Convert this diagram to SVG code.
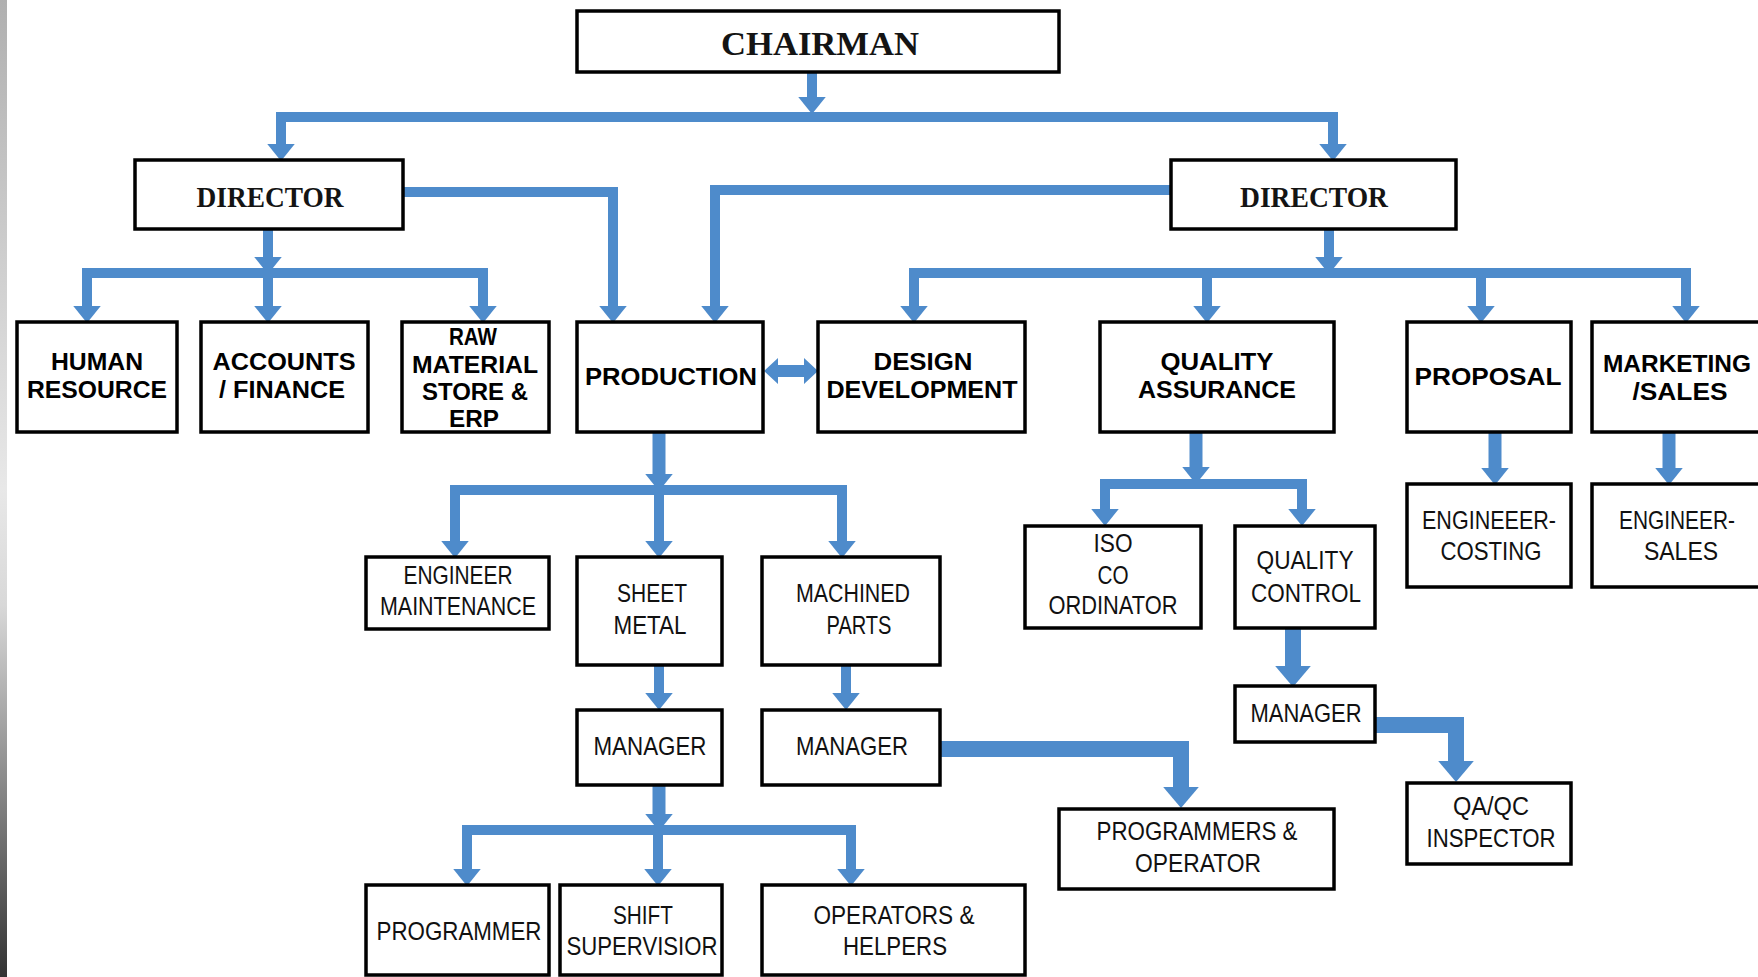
<svg xmlns="http://www.w3.org/2000/svg" width="1758" height="977" viewBox="0 0 1758 977">
<defs>
<style>
.box{fill:#fff;stroke:#000;stroke-width:3.5}
.c{fill:none;stroke:#4E8BCB;stroke-linejoin:miter;stroke-linecap:butt}
.n{stroke-width:10}
.m{stroke-width:13}
.t{stroke-width:16}
.ts{font-family:"Liberation Serif","Times New Roman",serif;font-weight:bold;fill:#141414;text-anchor:middle}
.tb{font-family:"Liberation Sans",Arial,sans-serif;font-weight:bold;font-size:24px;fill:#000;text-anchor:middle}
.tr{font-family:"Liberation Sans",Arial,sans-serif;font-size:26px;fill:#111;text-anchor:middle}
</style>
<marker id="ah" markerUnits="userSpaceOnUse" markerWidth="18" markerHeight="30" viewBox="0 -14 17 28" refX="0" refY="0" orient="auto-start-reverse">
<path d="M0,-13 L16,0 L0,13 Z" fill="#4E8BCB"/>
</marker>
<marker id="ahL" markerUnits="userSpaceOnUse" markerWidth="22" markerHeight="38" viewBox="0 -18 21 36" refX="0" refY="0" orient="auto-start-reverse">
<path d="M0,-17 L20,0 L0,17 Z" fill="#4E8BCB"/>
</marker>
<linearGradient id="edge" x1="0" y1="0" x2="0" y2="1">
<stop offset="0" stop-color="#b0b0b0"/>
<stop offset="0.5" stop-color="#e8e8e8"/>
<stop offset="0.62" stop-color="#d8d8d8"/>
<stop offset="1" stop-color="#333"/>
</linearGradient>
</defs>
<rect x="0" y="0" width="1758" height="977" fill="#fff"/>
<rect x="0" y="0" width="7" height="977" fill="url(#edge)"/>

<g id="connectors">
<path class="c n" d="M812 72 V97" marker-end="url(#ah)"/>
<path class="c n" d="M281 144 V117 H1333 V144" marker-start="url(#ah)" marker-end="url(#ah)"/>
<path class="c n" d="M268 229 V257" marker-end="url(#ah)"/>
<path class="c n" d="M87 306 V273 H483 V306" marker-start="url(#ah)" marker-end="url(#ah)"/>
<path class="c n" d="M268 273 V306" marker-end="url(#ah)"/>
<path class="c n" d="M403 192 H613 V306" marker-end="url(#ah)"/>
<path class="c n" d="M1171 190 H715 V306" marker-end="url(#ah)"/>
<path class="c n" d="M1329 229 V257" marker-end="url(#ah)"/>
<path class="c n" d="M914 306 V273 H1686 V306" marker-start="url(#ah)" marker-end="url(#ah)"/>
<path class="c n" d="M1207 273 V306" marker-end="url(#ah)"/>
<path class="c n" d="M1481 273 V306" marker-end="url(#ah)"/>
<polygon points="764,371 778,358 778,365 804,365 804,358 818,371 804,384 804,377 778,377 778,384" fill="#4E8BCB"/>
<path class="c m" d="M659 432 V474" marker-end="url(#ah)"/>
<path class="c n" d="M455 541 V490 H842 V541" marker-start="url(#ah)" marker-end="url(#ah)"/>
<path class="c n" d="M659 490 V541" marker-end="url(#ah)"/>
<path class="c n" d="M659 665 V693" marker-end="url(#ah)"/>
<path class="c n" d="M846 665 V693" marker-end="url(#ah)"/>
<path class="c m" d="M659 785 V814" marker-end="url(#ah)"/>
<path class="c n" d="M467 869 V830 H851 V869" marker-start="url(#ah)" marker-end="url(#ah)"/>
<path class="c n" d="M658 830 V869" marker-end="url(#ah)"/>
<path class="c t" d="M940 749 H1181 V787" marker-end="url(#ahL)"/>
<path class="c m" d="M1196 432 V467" marker-end="url(#ah)"/>
<path class="c n" d="M1105 509 V484 H1302 V509" marker-start="url(#ah)" marker-end="url(#ah)"/>
<path class="c t" d="M1293 628 V666" marker-end="url(#ahL)"/>
<path class="c t" d="M1375 725 H1456 V761" marker-end="url(#ahL)"/>
<path class="c m" d="M1495 432 V468" marker-end="url(#ah)"/>
<path class="c m" d="M1669 432 V468" marker-end="url(#ah)"/>
</g>

<g id="chairman"><rect class="box" x="577" y="11" width="482" height="61"/><text class="ts" x="820" y="55" font-size="33" textLength="198" lengthAdjust="spacingAndGlyphs">CHAIRMAN</text></g>
<g id="director-left"><rect class="box" x="135" y="160" width="268" height="69"/><text class="ts" x="270" y="207" font-size="30" textLength="147" lengthAdjust="spacingAndGlyphs">DIRECTOR</text></g>
<g id="director-right"><rect class="box" x="1171" y="160" width="285" height="69"/><text class="ts" x="1314" y="207" font-size="30" textLength="148" lengthAdjust="spacingAndGlyphs">DIRECTOR</text></g>

<g id="human-resource"><rect class="box" x="17" y="322" width="160" height="110"/><text class="tb" x="97" y="370" textLength="92" lengthAdjust="spacingAndGlyphs">HUMAN</text><text class="tb" x="97" y="398" textLength="140" lengthAdjust="spacingAndGlyphs">RESOURCE</text></g>
<g id="accounts"><rect class="box" x="201" y="322" width="167" height="110"/><text class="tb" x="284" y="370" textLength="143" lengthAdjust="spacingAndGlyphs">ACCOUNTS</text><text class="tb" x="282" y="398" textLength="126" lengthAdjust="spacingAndGlyphs">/ FINANCE</text></g>
<g id="raw-material"><rect class="box" x="402" y="322" width="147" height="110"/><text class="tb" x="473" y="345" textLength="48" lengthAdjust="spacingAndGlyphs">RAW</text><text class="tb" x="475" y="373" textLength="126" lengthAdjust="spacingAndGlyphs">MATERIAL</text><text class="tb" x="475" y="400" textLength="106" lengthAdjust="spacingAndGlyphs">STORE &amp;</text><text class="tb" x="474" y="427" textLength="50" lengthAdjust="spacingAndGlyphs">ERP</text></g>
<g id="production"><rect class="box" x="577" y="322" width="186" height="110"/><text class="tb" x="671" y="385" textLength="172" lengthAdjust="spacingAndGlyphs">PRODUCTION</text></g>
<g id="design"><rect class="box" x="818" y="322" width="207" height="110"/><text class="tb" x="923" y="370" textLength="99" lengthAdjust="spacingAndGlyphs">DESIGN</text><text class="tb" x="922" y="398" textLength="191" lengthAdjust="spacingAndGlyphs">DEVELOPMENT</text></g>
<g id="quality-assurance"><rect class="box" x="1100" y="322" width="234" height="110"/><text class="tb" x="1217" y="370" textLength="113" lengthAdjust="spacingAndGlyphs">QUALITY</text><text class="tb" x="1217" y="398" textLength="158" lengthAdjust="spacingAndGlyphs">ASSURANCE</text></g>
<g id="proposal"><rect class="box" x="1407" y="322" width="164" height="110"/><text class="tb" x="1488" y="385" textLength="147" lengthAdjust="spacingAndGlyphs">PROPOSAL</text></g>
<g id="marketing"><rect class="box" x="1592" y="322" width="168" height="110"/><text class="tb" x="1677" y="372" textLength="148" lengthAdjust="spacingAndGlyphs">MARKETING</text><text class="tb" x="1680" y="400" textLength="95" lengthAdjust="spacingAndGlyphs">/SALES</text></g>

<g id="engineer-maintenance"><rect class="box" x="366" y="557" width="183" height="72"/><text class="tr" x="458" y="584" textLength="109" lengthAdjust="spacingAndGlyphs">ENGINEER</text><text class="tr" x="458" y="615" textLength="156" lengthAdjust="spacingAndGlyphs">MAINTENANCE</text></g>
<g id="sheet-metal"><rect class="box" x="577" y="557" width="145" height="108"/><text class="tr" x="652" y="602" textLength="70" lengthAdjust="spacingAndGlyphs">SHEET</text><text class="tr" x="650" y="634" textLength="73" lengthAdjust="spacingAndGlyphs">METAL</text></g>
<g id="machined-parts"><rect class="box" x="762" y="557" width="178" height="108"/><text class="tr" x="853" y="602" textLength="114" lengthAdjust="spacingAndGlyphs">MACHINED</text><text class="tr" x="859" y="634" textLength="65" lengthAdjust="spacingAndGlyphs">PARTS</text></g>
<g id="manager-sheet"><rect class="box" x="577" y="710" width="145" height="75"/><text class="tr" x="650" y="755" textLength="113" lengthAdjust="spacingAndGlyphs">MANAGER</text></g>
<g id="manager-machined"><rect class="box" x="762" y="710" width="178" height="75"/><text class="tr" x="852" y="755" textLength="112" lengthAdjust="spacingAndGlyphs">MANAGER</text></g>
<g id="programmer"><rect class="box" x="366" y="885" width="183" height="90"/><text class="tr" x="459" y="940" textLength="165" lengthAdjust="spacingAndGlyphs">PROGRAMMER</text></g>
<g id="shift-supervisior"><rect class="box" x="560" y="885" width="162" height="90"/><text class="tr" x="643" y="924" textLength="60" lengthAdjust="spacingAndGlyphs">SHIFT</text><text class="tr" x="642" y="955" textLength="151" lengthAdjust="spacingAndGlyphs">SUPERVISIOR</text></g>
<g id="operators-helpers"><rect class="box" x="762" y="885" width="263" height="90"/><text class="tr" x="894" y="924" textLength="161" lengthAdjust="spacingAndGlyphs">OPERATORS &amp;</text><text class="tr" x="895" y="955" textLength="104" lengthAdjust="spacingAndGlyphs">HELPERS</text></g>
<g id="programmers-operator"><rect class="box" x="1059" y="809" width="275" height="80"/><text class="tr" x="1197" y="840" textLength="201" lengthAdjust="spacingAndGlyphs">PROGRAMMERS &amp;</text><text class="tr" x="1198" y="872" textLength="126" lengthAdjust="spacingAndGlyphs">OPERATOR</text></g>

<g id="iso-coordinator"><rect class="box" x="1025" y="526" width="176" height="102"/><text class="tr" x="1113" y="552" textLength="39" lengthAdjust="spacingAndGlyphs">ISO</text><text class="tr" x="1113" y="584" textLength="31" lengthAdjust="spacingAndGlyphs">CO</text><text class="tr" x="1113" y="614" textLength="129" lengthAdjust="spacingAndGlyphs">ORDINATOR</text></g>
<g id="quality-control"><rect class="box" x="1235" y="526" width="140" height="102"/><text class="tr" x="1305" y="569" textLength="97" lengthAdjust="spacingAndGlyphs">QUALITY</text><text class="tr" x="1306" y="602" textLength="110" lengthAdjust="spacingAndGlyphs">CONTROL</text></g>
<g id="manager-qc"><rect class="box" x="1235" y="686" width="140" height="56"/><text class="tr" x="1306" y="722" textLength="111" lengthAdjust="spacingAndGlyphs">MANAGER</text></g>
<g id="qaqc-inspector"><rect class="box" x="1407" y="783" width="164" height="81"/><text class="tr" x="1491" y="815" textLength="76" lengthAdjust="spacingAndGlyphs">QA/QC</text><text class="tr" x="1491" y="847" textLength="129" lengthAdjust="spacingAndGlyphs">INSPECTOR</text></g>
<g id="engineer-costing"><rect class="box" x="1407" y="484" width="164" height="103"/><text class="tr" x="1489" y="529" textLength="134" lengthAdjust="spacingAndGlyphs">ENGINEEER-</text><text class="tr" x="1491" y="560" textLength="101" lengthAdjust="spacingAndGlyphs">COSTING</text></g>
<g id="engineer-sales"><rect class="box" x="1592" y="484" width="168" height="103"/><text class="tr" x="1677" y="529" textLength="116" lengthAdjust="spacingAndGlyphs">ENGINEER-</text><text class="tr" x="1681" y="560" textLength="74" lengthAdjust="spacingAndGlyphs">SALES</text></g>
</svg>
